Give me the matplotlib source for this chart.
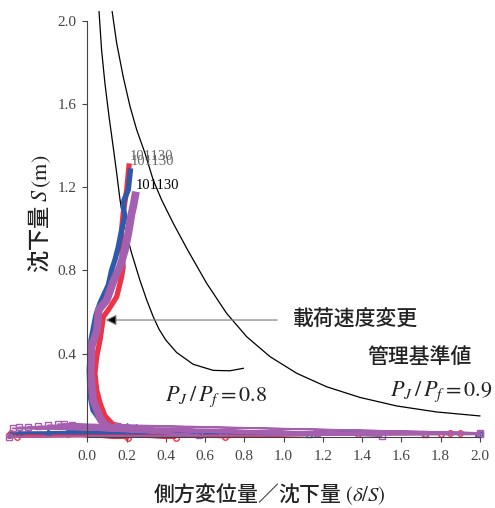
import matplotlib
matplotlib.use('Agg')
import matplotlib.pyplot as plt

plt.rcParams['font.family'] = ['Noto Sans CJK JP', 'DejaVu Sans']
plt.rcParams['mathtext.fontset'] = 'stix'

# 管理基準線 (Matsuo-Kawamura), 図から読み取り
crv08_x = [0.060, 0.073, 0.090, 0.111, 0.132, 0.150, 0.167, 0.190, 0.226, 0.268, 0.303, 0.336, 0.365, 0.400, 0.455, 0.540, 0.642, 0.727, 0.795]
crv08_y = [2.043, 1.859, 1.699, 1.538, 1.394, 1.266, 1.138, 1.010, 0.882, 0.753, 0.657, 0.577, 0.518, 0.465, 0.405, 0.348, 0.319, 0.317, 0.329]
crv09_x = [0.127, 0.150, 0.183, 0.218, 0.252, 0.294, 0.336, 0.379, 0.438, 0.510, 0.608, 0.710, 0.812, 0.931, 1.067, 1.220, 1.389, 1.576, 1.780, 2.000]
crv09_y = [2.043, 1.891, 1.731, 1.587, 1.475, 1.363, 1.234, 1.138, 1.026, 0.900, 0.738, 0.593, 0.481, 0.385, 0.305, 0.240, 0.189, 0.148, 0.119, 0.100]

# 計測値 (δ/S, S) : 初期のばらつき部分 + 立ち上がり部分
red_band_x = [-0.40, 2.00, -0.39, 0.21, -0.30, 0.45, -0.10, 0.70, 1.38, -0.36, 1.72, 1.80, 1.85, 1.90, 0.10, 0.20, 0.23, 0.25]
red_band_y = [0.010, 0.012, 0.020, -0.008, 0.015, -0.006, 0.012, -0.003, 0.012, 0.000, 0.012, 0.015, 0.016, 0.016, 0.025, 0.040, 0.042, 0.040]
red_x = [0.234, 0.183, 0.130, 0.090, 0.065, 0.048, 0.039, 0.048, 0.065, 0.082, 0.107, 0.150, 0.175, 0.183, 0.175, 0.175, 0.183, 0.201, 0.209, 0.214]
red_y = [0.040, 0.048, 0.060, 0.100, 0.162, 0.225, 0.305, 0.385, 0.465, 0.577, 0.609, 0.673, 0.769, 0.817, 0.900, 0.994, 1.074, 1.186, 1.266, 1.314]

blue_band_x = [-0.39, 1.99, -0.35, 0.50, 0.93, -0.20, 2.00, -0.10, 1.13, 0.05, 0.10, 0.20, 0.25]
blue_band_y = [0.015, 0.016, 0.020, 0.025, 0.025, 0.022, 0.018, 0.030, 0.014, 0.045, 0.060, 0.050, 0.045]
blue_x = [0.116, 0.065, 0.029, 0.014, 0.010, 0.019, 0.044, 0.065, 0.107, 0.124, 0.141, 0.158, 0.175, 0.192, 0.183, 0.187, 0.209, 0.221]
blue_y = [0.042, 0.080, 0.128, 0.200, 0.321, 0.465, 0.585, 0.643, 0.729, 0.801, 0.850, 0.913, 0.994, 1.058, 1.106, 1.138, 1.186, 1.290]

purple_band_x = [-0.40, 2.00, -0.38, 1.50, -0.35, 1.72, -0.30, 0.57, -0.25, 1.17, -0.20, 0.69, -0.15, 2.00, -0.12, -0.08, 0.10, 0.15]
purple_band_y = [0.000, 0.012, 0.040, 0.005, 0.045, 0.012, 0.048, 0.008, 0.050, 0.020, 0.055, 0.022, 0.060, 0.018, 0.062, 0.055, 0.050, 0.050]
purple_x = [0.105, 0.070, 0.030, 0.018, 0.022, 0.050, 0.058, 0.099, 0.132, 0.167, 0.192, 0.209, 0.226, 0.234, 0.248]
purple_y = [0.048, 0.080, 0.176, 0.306, 0.433, 0.513, 0.609, 0.657, 0.744, 0.817, 0.898, 0.978, 1.074, 1.106, 1.178]

end_label = '101130'
xticks = [0.0, 0.2, 0.4, 0.6, 0.8, 1.0, 1.2, 1.4, 1.6, 1.8, 2.0]
yticks = [0.4, 0.8, 1.2, 1.6, 2.0]

fig = plt.figure(figsize=(4.95, 5.08), dpi=100)
ax = fig.add_axes([0.0137, 0.1321, 0.9636, 0.8518])

ax.plot(crv08_x, crv08_y, color='black', lw=0.9, clip_on=False)
ax.plot(crv09_x, crv09_y, color='black', lw=0.9, clip_on=False)

series = [
    (red_band_x, red_band_y, red_x, red_y, '#ee3344', 'o', 3.8, '#666666'),
    (blue_band_x, blue_band_y, blue_x, blue_y, '#2d5aab', '^', 3.8, '#666666'),
    (purple_band_x, purple_band_y, purple_x, purple_y, '#a45fae', 's', 5.6, 'black'),
]
for bx, by, sx, sy, col, mk, lw, tcol in series:
    ax.plot(bx + [sx[0]], by + [sy[0]], color=col, lw=1.3, marker=mk, ms=4,
            mfc='none', mew=1.0, clip_on=False)
    ax.plot(sx, sy, color=col, lw=lw, solid_joinstyle='miter', solid_capstyle='butt')
    ax.annotate(end_label, xy=(sx[-1], sy[-1]), xytext=(0, 0), textcoords='offset points',
                ha='left', va='bottom', fontsize=10.5, color=tcol, family='Liberation Serif')

# 載荷速度変更の矢印
ax.annotate('', xy=(0.08, 0.561), xytext=(0.982, 0.561),
            arrowprops=dict(arrowstyle='-|>', fc='black', ec='#777777', lw=0.8, mutation_scale=16))
ax.text(1.048, 0.561, '載荷速度変更', fontsize=15, fontweight='medium', ha='left', va='center', color='#222222')
ax.text(1.425, 0.383, '管理基準値', fontsize=15, fontweight='medium', ha='left', va='center', color='#222222')
ax.text(0.396, 0.193, r'$P_J\,/\,P_f = 0.8$', fontsize=16, ha='left', va='center', color='#222222')
ax.text(1.541, 0.215, r'$P_J\,/\,P_f = 0.9$', fontsize=16, ha='left', va='center', color='#222222')

ax.set_xlim(-0.41, 2.02)
ax.set_ylim(-0.02, 2.06)
for s in ['top', 'right']:
    ax.spines[s].set_visible(False)
ax.spines['left'].set_position(('data', 0))
ax.spines['left'].set_bounds(0, 2.0)
ax.spines['bottom'].set_position(('data', 0))
ax.spines['bottom'].set_bounds(0, 2.0)
ax.spines['left'].set_color('#444444')
ax.spines['bottom'].set_color('#444444')

ax.set_xticks(xticks)
ax.set_xticklabels(['%.1f' % v for v in xticks], family='Liberation Serif', fontsize=11, color='#444444')
ax.set_yticks(yticks)
ax.set_yticklabels(['%.1f' % v for v in yticks], family='Liberation Serif', fontsize=11, color='#444444')
ax.tick_params(axis='x', direction='out', length=3.6, pad=6, color='#444444')
ax.tick_params(axis='y', direction='out', length=3.6, pad=4, color='#444444')

fig.text(0.545, 0.027, '側方変位量／沈下量 $(\\delta/S)$', fontsize=15, fontweight='medium',
         ha='center', va='center', color='#222222')
fig.text(0.08, 0.58, '沈下量 $S\\,\\mathrm{(m)}$', fontsize=16, fontweight='medium',
         ha='center', va='center', rotation=90, color='#222222')

fig.savefig('out.png', dpi=100)
